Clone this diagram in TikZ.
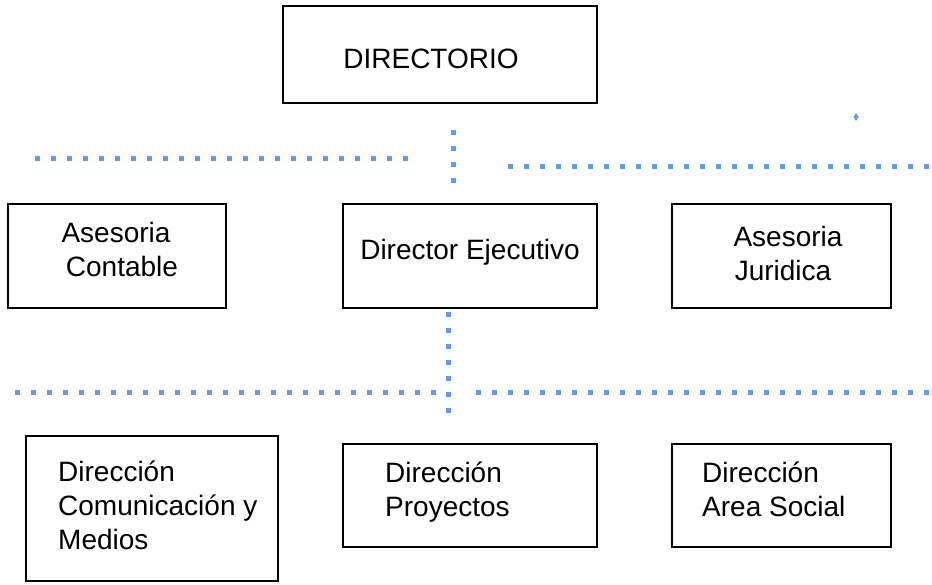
\documentclass[tikz,border=0pt]{standalone}
\usepackage{fontspec}
\setmainfont{Liberation Sans}

\definecolor{dotblue}{RGB}{95,155,245}
\tikzset{
  box/.style={draw, line width=2.2pt},
  txt/.style={font=\fontsize{28}{34}\selectfont, inner sep=0pt},
  dotline/.style={dotblue, line width=5pt, dash pattern=on 5pt off 11pt}
}

\begin{document}
\begin{tikzpicture}[x=1pt, y=-1pt]
        \useasboundingbox (0,0) rectangle (932,584);

        % Top level
        \node[box, minimum width=314pt, minimum height=97pt] (dir) at (440,54.5) {};
        \node[txt] (dirtxt) at (431,58.5) {DIRECTORIO};

        % Dotted connector below the top box
        \coordinate (topv1) at (453,130);
        \coordinate (topv2) at (453,188);
        \coordinate (topl1) at (35,158);
        \coordinate (topl2) at (412,158);
        \coordinate (topr1) at (508,166);
        \coordinate (topr2) at (932,166);
        \draw[dotline] (topv1) -- (topv2);
        \draw[dotline] (topl1) -- (topl2);
        \draw[dotline] (topr1) -- (topr2);
        \fill[dotblue] (856,113) -- (858.5,117) -- (856,121) -- (853.5,117) -- cycle;

        % Second level
        \node[box, minimum width=218pt, minimum height=104pt] (contable) at (117,256) {};
        \node[txt, align=center] (contabletxt) at (116,249.5) {Asesoria\\\hspace*{12pt}Contable};

        \node[box, minimum width=254pt, minimum height=104pt] (ejec) at (470,256) {};
        \node[txt] (ejectxt) at (470,252) {Director Ejecutivo};

        \node[box, minimum width=219pt, minimum height=104pt] (juridica) at (781.5,256) {};
        \node[txt, align=center] (juridicatxt) at (783,253) {\hspace*{10pt}Asesoria\\Juridica};

        % Dotted connector below the director
        \coordinate (midv1) at (448,312);
        \coordinate (midv2) at (448,414);
        \coordinate (midl1) at (15,392);
        \coordinate (midl2) at (440,392);
        \coordinate (midr1) at (476,392);
        \coordinate (midr2) at (932,392);
        \draw[dotline] (midv1) -- (midv2);
        \draw[dotline] (midl1) -- (midl2);
        \draw[dotline] (midr1) -- (midr2);

        % Third level
        \node[box, minimum width=252pt, minimum height=145pt] (medios) at (152,508.5) {};
        \node[txt, align=left, anchor=west] (mediostxt) at (58,505) {Dirección\\Comunicación y\\Medios};

        \node[box, minimum width=254pt, minimum height=103pt] (proyectos) at (470,495.5) {};
        \node[txt, align=left, anchor=west] (proyectostxt) at (385,492) {Dirección\\Proyectos};

        \node[box, minimum width=219pt, minimum height=103pt] (social) at (781.5,495.5) {};
        \node[txt, align=left, anchor=west] (socialtxt) at (702,489) {Dirección\\Area Social};

    \end{tikzpicture}
\end{document}
